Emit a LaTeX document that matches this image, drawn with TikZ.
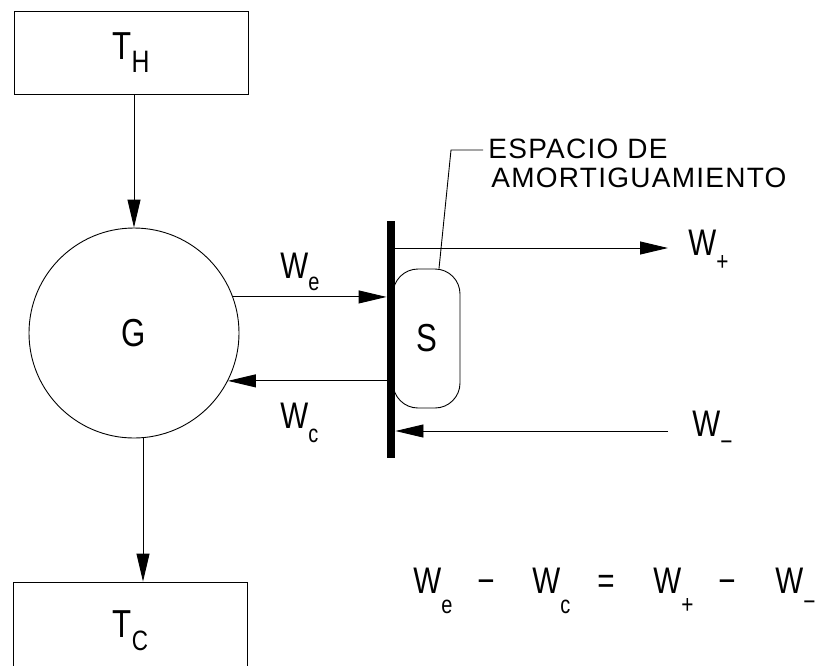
\documentclass[tikz,border=0pt]{standalone}
\usepackage{fontspec}
\setmainfont{Liberation Sans}
\newfontfamily\cadfont{Liberation Sans}[FakeStretch=0.8]
\newfontfamily\notefont{Liberation Sans}[LetterSpace=4.5]
\usetikzlibrary{arrows.meta}
% lowered, smaller index text
\newcommand\dn[3][12pt]{\raisebox{-#1}{\fontsize{#2}{#2}\selectfont #3}}

\begin{document}
\begin{tikzpicture}[
  x=1pt, y=-1pt,
  >={Triangle[length=28pt,width=13pt]},
  line width=0.9pt,
  big/.style={font=\cadfont\fontsize{39}{39}\selectfont},
  wlabel/.style={inner sep=0pt, anchor=base west, font=\cadfont\fontsize{37}{37}\selectfont},
  box/.style={draw, rectangle, minimum width=234pt, inner sep=0pt, big},
  flow/.style={->}
]
\clip (0,0) rectangle (818,665);

\node[box, minimum height=83pt] (TH) at (131,52.5) {T\dn[13pt]{31}{H}};
\node[box, minimum height=98pt] (TC) at (130.5,631) {T\dn[13pt]{28}{C}};
\node[draw, circle, minimum size=210pt, inner sep=0pt, big] (G) at (134,333) {G};
\node[draw, rounded corners=25pt, minimum width=67pt, minimum height=139pt, big] (S) at (426.5,338.5) {S};
\node[fill, minimum width=8pt, minimum height=237pt, inner sep=0pt] (bar) at (391,339.5) {};

\coordinate (wp) at (668,248);
\coordinate (wm) at (668,431);

\draw[flow] (TH.south -| G.north) -- (G.north);
\draw[flow] ([xshift=9pt]G.south) -- ([xshift=9pt]G.south |- TC.north);
\draw[flow] (G.20) -- (G.20 -| bar.west);
\draw[flow] (bar.west |- G.-27) -- (G.-27);
\draw[flow] (bar.east |- wp) -- (wp);
\draw[flow] (wm) -- (wm -| bar.east);

\node[wlabel] (lwe) at (280,278) {W\dn[12pt]{25}{e}};
\node[wlabel] (lwc) at (280,428) {W\dn[14pt]{25}{c}};
\node[wlabel] (lwp) at (688,255) {W\dn[15pt]{26}{+}};
\node[wlabel] (lwm) at (692,436) {W\dn[14pt]{26}{−}};

% leader to the label
\node[inner sep=0pt, anchor=north west, align=left, font=\notefont\fontsize{28}{29}\selectfont] (amort) at (488,138)
  {ESPACIO DE\\\hspace*{3pt}AMORTIGUAMIENTO};
\draw ([xshift=12.5pt]S.north) -- (451,150) -- (483,150);

\node[wlabel] (eq) at (413,593) {\makebox[64pt][l]{W\dn[20pt]{25}{e}}\makebox[55pt][l]{−}\makebox[65pt][l]{W\dn[20pt]{25}{c}}\makebox[56pt][l]{=}\makebox[65pt][l]{W\dn[20pt]{26}{+}}\makebox[57pt][l]{−}W\dn[17pt]{26}{−}};

\end{tikzpicture}
\end{document}
